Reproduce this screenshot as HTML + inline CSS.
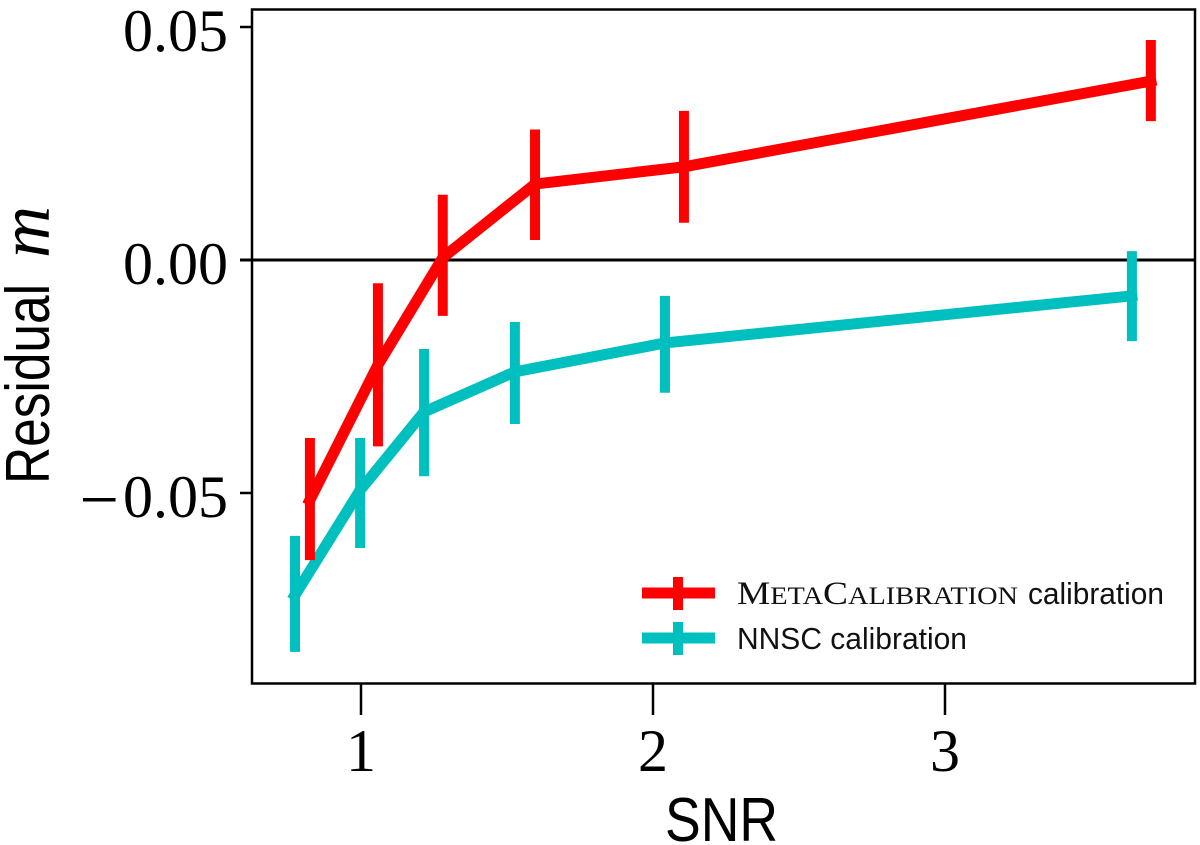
<!DOCTYPE html>
<html lang="en">
<head>
<meta charset="utf-8">
<title>Residual m versus SNR</title>
<style>
html,body{margin:0;padding:0;background:#fff;width:1200px;height:845px;overflow:hidden}
svg{display:block}
.tick{font-family:"Liberation Serif",serif;font-size:60px;fill:#000}
.title{font-family:"Liberation Sans",sans-serif;font-size:62px;fill:#000}
.leg{font-family:"Liberation Sans",sans-serif;font-size:31px;fill:#111}
.legs{font-family:"Liberation Serif",serif;font-size:33px;fill:#111}
</style>
</head>
<body>
<svg id="chart" xmlns="http://www.w3.org/2000/svg" width="1200" height="845" viewBox="0 0 1200 845">
  <g id="ticks"></g>
  <line id="zero" stroke="#000" stroke-width="3"/>
  <g id="marks"></g>
  <rect x="252" y="9.5" width="943" height="674" fill="none" stroke="#000" stroke-width="2.5"/>

  <text class="title" x="665" y="841" textLength="113" lengthAdjust="spacingAndGlyphs">SNR</text>
  <g transform="translate(49,484) rotate(-90)">
    <text class="title" x="0" y="0" textLength="200" lengthAdjust="spacingAndGlyphs">Residual</text>
    <text x="226" y="0" font-family="'Liberation Serif',serif" font-style="italic" font-size="72" fill="#000">m</text>
  </g>

  <g>
    <g>
      <line x1="642" x2="715" y1="593" y2="593" stroke="#ff0000" stroke-width="11"/>
      <line x1="678" x2="678" y1="577" y2="610" stroke="#ff0000" stroke-width="10"/>
      <text class="legs" x="737" y="604" textLength="281" lengthAdjust="spacingAndGlyphs">M<tspan font-size="25">ETA</tspan>C<tspan font-size="25">ALIBRATION</tspan></text>
      <text class="leg" x="1028" y="604" textLength="136" lengthAdjust="spacingAndGlyphs">calibration</text>
    </g>
    <g>
      <line x1="642" x2="715" y1="638" y2="638" stroke="#00bfbf" stroke-width="11"/>
      <line x1="678" x2="678" y1="622" y2="655" stroke="#00bfbf" stroke-width="10"/>
      <text class="leg" x="737" y="649" textLength="230" lengthAdjust="spacingAndGlyphs">NNSC calibration</text>
    </g>
  </g>
</svg>
<script>
var xTicks = [1, 2, 3];
var xTickLabels = ["1", "2", "3"];
var yTicks = [0.05, 0, -0.05];
var yTickLabels = ["0.05", "0.00", "0.05"];

var metaSnr = [0.825, 1.058, 1.28, 1.596, 2.106, 3.705];
var metaResidual = [-0.0515, -0.0225, 0.0005, 0.0163, 0.02, 0.0384];
var metaUpper = [-0.0382, -0.005, 0.014, 0.028, 0.032, 0.0472];
var metaLower = [-0.0644, -0.04, -0.012, 0.0043, 0.008, 0.0298];

var nnscSnr = [0.774, 0.997, 1.216, 1.527, 2.041, 3.64];
var nnscResidual = [-0.0719, -0.0494, -0.0326, -0.024, -0.0178, -0.0077];
var nnscUpper = [-0.0592, -0.0382, -0.0191, -0.0133, -0.0077, 0.0019];
var nnscLower = [-0.0841, -0.0618, -0.0464, -0.0352, -0.0285, -0.0174];

var NS = "http://www.w3.org/2000/svg";
function xScale(v) { return 361 + (v - 1) * 292; }
function yScale(v) { return 260 - v * 4660; }
function setAll(el, attrs) {
  for (var k in attrs) { el.setAttribute(k, attrs[k]); }
  return el;
}

var tickGroup = document.getElementById("ticks");
var marksGroup = document.getElementById("marks");

xTicks.forEach(function (t, i) {
  var mark = setAll(document.createElementNS(NS, "line"), {x1: xScale(t), x2: xScale(t), y1: 683, y2: 715, stroke: "#000", "stroke-width": 2.5});
  
  
  tickGroup.appendChild(mark);
  var label = setAll(document.createElementNS(NS, "text"), {x: xScale(t), y: 771, "text-anchor": "middle", "class": "tick"});
  label.textContent = xTickLabels[i];
  
  
  tickGroup.appendChild(label);
});

yTicks.forEach(function (t, i) {
  var mark = setAll(document.createElementNS(NS, "line"), {x1: 240, x2: 252, y1: yScale(t), y2: yScale(t), stroke: "#000", "stroke-width": 2.5});
  
  
  tickGroup.appendChild(mark);
  var label = setAll(document.createElementNS(NS, "text"), {x: 228, y: yScale(t) + 24, "text-anchor": "end", "class": "tick"});
  if (t < 0) {
    var minus = document.createElementNS(NS, "tspan");
    minus.setAttribute("font-size", "70");
    minus.setAttribute("dy", "6");
    minus.textContent = "\u2212";
    label.appendChild(minus);
    var num = document.createElementNS(NS, "tspan");
    num.setAttribute("dx", "4");
    num.setAttribute("dy", "-6");
    num.textContent = yTickLabels[i];
    label.appendChild(num);
  } else {
    label.textContent = yTickLabels[i];
  }
  
  
  tickGroup.appendChild(label);
});

setAll(document.getElementById("zero"), {x1: 240, x2: 1195, y1: yScale(0), y2: yScale(0)});

function drawSeries(xs, ys, up, lo, color, key) {
  var pts = xs.map(function (v, i) { return xScale(v) + "," + yScale(ys[i]); }).join(" ");
  var line = setAll(document.createElementNS(NS, "polyline"), {points: pts, fill: "none", stroke: color, "stroke-width": 11, "stroke-linejoin": "round", "stroke-linecap": "square"});
  
  
  marksGroup.appendChild(line);
  xs.forEach(function (v, i) {
    var bar = setAll(document.createElementNS(NS, "line"), {x1: xScale(v), x2: xScale(v), y1: yScale(up[i]), y2: yScale(lo[i]), stroke: color, "stroke-width": 10});
    
    
    marksGroup.appendChild(bar);
  });
}
drawSeries(nnscSnr, nnscResidual, nnscUpper, nnscLower, "#00bfbf", "nnsc");
drawSeries(metaSnr, metaResidual, metaUpper, metaLower, "#ff0000", "metacalibration");
</script>
</body>
</html>
